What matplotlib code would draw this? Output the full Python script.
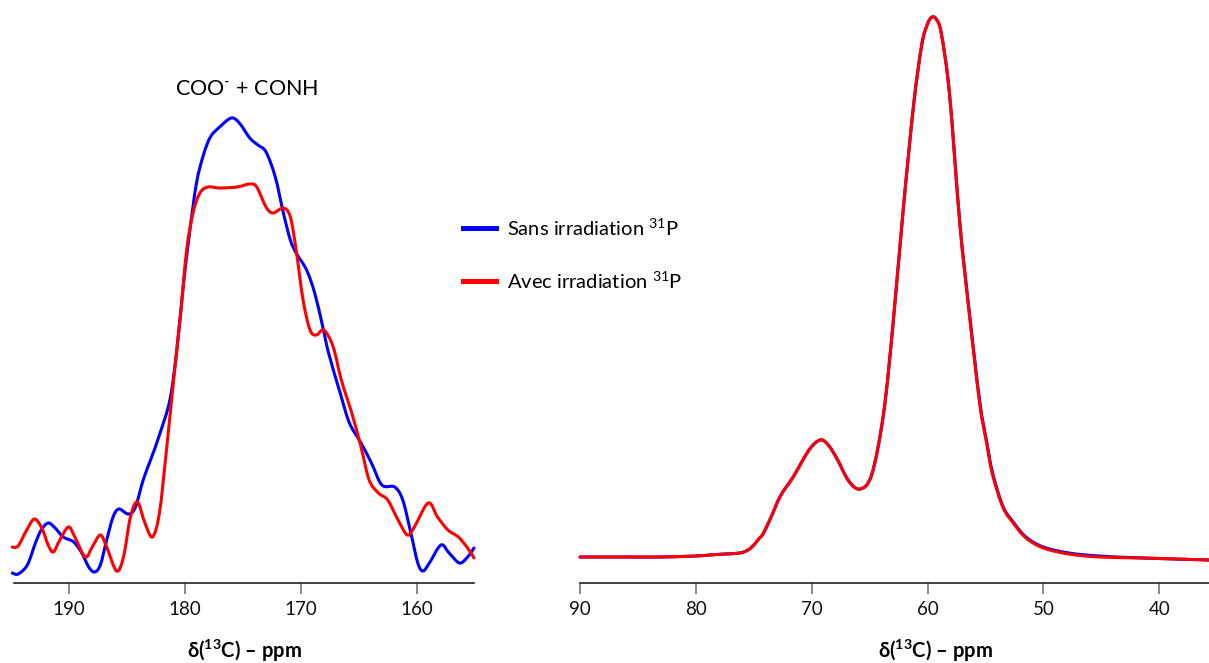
import matplotlib

matplotlib.use("Agg")
import matplotlib.pyplot as plt
import numpy as np
from matplotlib.lines import Line2D
from matplotlib.patches import PathPatch
from matplotlib.path import Path

plt.rcParams["font.family"] = ["Lato", "DejaVu Sans"]
plt.rcParams["mathtext.fontset"] = "custom"
plt.rcParams["mathtext.rm"] = "Lato"
plt.rcParams["mathtext.bf"] = "Lato:bold"

BLUE = "#0000ff"
RED = "#ff0000"

# carbonyl region (COO- + CONH), intensity in arbitrary units
carb_ppm_sans = [194.9, 194.4, 193.6, 192.9, 192.4, 191.8, 191.2, 190.5, 189.6, 188.9,
                 188.3, 187.8, 187.3, 186.75, 186.2, 185.7, 184.9, 184.3, 183.6, 182.9,
                 182.2, 181.3, 180.7, 180.15, 179.6, 179.0, 178.4, 177.8, 177.0, 176.0,
                 175.3, 174.4, 173.7, 173.0, 172.2, 171.5, 170.9, 170.4, 169.5, 168.8,
                 168.1, 167.6, 166.6, 165.8, 164.8, 163.9, 163.0, 161.9, 161.2, 160.5,
                 159.9, 159.45, 158.9, 157.9, 157.2, 156.3, 155.6, 155.05]
carb_int_sans = [10, 9, 18, 40, 53, 60, 55, 46, 41, 30,
                 16, 11, 18, 43, 66, 74, 69, 75, 103, 125,
                 148, 183, 233, 296, 350, 400, 428, 446, 456, 465,
                 460, 445, 438, 431, 406, 370, 343, 330, 313, 290,
                 256, 230, 190, 160, 140, 120, 98, 96, 83, 50,
                 20, 12, 20, 38, 30, 20, 26, 35]

carb_ppm_avec = [194.9, 194.4, 193.65, 193.0, 192.35, 191.8, 191.35, 190.8, 190.05, 189.5,
                 188.6, 188.0, 187.3, 186.75, 185.9, 185.3, 184.7, 184.1, 183.45, 182.8,
                 182.2, 181.6, 181.0, 180.4, 179.85, 179.3, 178.7, 178.0, 177.0, 175.5,
                 174.4, 173.8, 173.0, 172.4, 171.5, 170.9, 170.4, 169.8, 169.2, 168.65,
                 168.0, 167.2, 166.5, 165.6, 164.8, 164.1, 163.3, 162.5, 161.6, 160.8,
                 160.2, 159.0, 158.2, 157.3, 156.4, 155.6, 155.05]
carb_int_avec = [36, 37, 53, 64, 55, 38, 31, 43, 56, 46,
                 26, 36, 48, 36, 12, 26, 66, 81, 60, 46,
                 70, 132, 200, 266, 333, 370, 390, 396, 395, 396,
                 399, 396, 376, 370, 375, 366, 333, 283, 253, 248,
                 253, 236, 203, 170, 136, 103, 90, 83, 63, 48,
                 56, 80, 66, 53, 46, 35, 25]

# aliphatic region
ali_ppm = [90.0, 86.0, 83.0, 80.0, 78.8, 77.5, 76.2, 75.5, 75.0, 74.5,
           74.2, 73.5, 72.7, 71.6, 70.4, 69.7, 69.1, 68.5, 67.8, 66.8,
           65.8, 64.8, 63.8, 63.0, 62.1, 61.2, 60.5, 60.0, 59.6, 59.2,
           58.8, 58.1, 57.2, 56.4, 55.5, 54.9, 54.4, 53.5, 52.6,
           51.5, 50.0, 47.8, 45.2, 41.4, 35.7]
ali_int_sans = [26, 26, 26, 27, 28, 29, 30, 33, 38, 45,
                49, 66, 87, 106, 130, 140, 143, 137, 124, 102,
                94, 109, 169, 256, 373, 478, 538, 559, 566, 563,
                549, 489, 359, 272, 182, 142, 111, 77, 61,
                46, 36, 30, 27, 25, 23]
ali_int_avec = [26, 26, 26, 27, 28, 29, 30, 33, 38, 45,
                49, 66, 87, 106, 130, 140, 143, 137, 124, 102,
                94, 109, 169, 256, 373, 478, 538, 559, 566, 563,
                549, 489, 358, 270, 180, 140, 109, 76, 60,
                45, 35, 29, 26, 25, 23]

xticks_carb = [190, 180, 170, 160]
xticks_ali = [90, 80, 70, 60, 50, 40]
labels = [r"Sans irradiation $^{31}$P", r"Avec irradiation $^{31}$P"]
xlabel = "\u03b4(" + r"$\mathbf{^{13}}$" + "C) \u2013 ppm"

W, H = 1209, 663
fig = plt.figure(figsize=(W / 100, H / 100), dpi=100)
ax_l = fig.add_axes([14 / W, 80 / H, 460 / W, 583 / H])
ax_r = fig.add_axes([580 / W, 80 / H, 629 / W, 583 / H])


def spectrum(ax, x, y, color):
    # smooth trace through the read points (Catmull-Rom drawn as Bezier segments)
    p = np.column_stack([x, y]).astype(float)
    ext = np.vstack([p[0], p, p[-1]])
    verts, codes = [p[0]], [Path.MOVETO]
    for i in range(len(p) - 1):
        p0, p1, p2, p3 = ext[i], ext[i + 1], ext[i + 2], ext[i + 3]
        verts += [p1 + (p2 - p0) / 6, p2 - (p3 - p1) / 6, p2]
        codes += [Path.CURVE4] * 3
    ax.add_patch(PathPatch(Path(verts, codes), fill=False, edgecolor=color, lw=2.2,
                           joinstyle="round", capstyle="round", clip_on=False))


def style(ax, xlim, ticks):
    ax.set_xlim(*xlim)
    ax.set_ylim(0, 583)
    for side in ("left", "right", "top"):
        ax.spines[side].set_visible(False)
    ax.spines["bottom"].set_linewidth(1.2)
    ax.spines["bottom"].set_color("#222222")
    ax.set_yticks([])
    ax.set_xticks(ticks)
    ax.tick_params(axis="x", direction="out", length=8, width=1.3, color="#7f7f7f",
                   pad=5, labelsize=13.5, labelcolor="#111111")


spectrum(ax_l, carb_ppm_sans, carb_int_sans, BLUE)
spectrum(ax_l, carb_ppm_avec, carb_int_avec, RED)
style(ax_l, (194.75, 155.05), xticks_carb)

spectrum(ax_r, ali_ppm, ali_int_sans, BLUE)
spectrum(ax_r, ali_ppm, ali_int_avec, RED)
style(ax_r, (90, 35.7), xticks_ali)

fig.text(247 / W, 1 - 89 / H, r"COO$^{\text{-}}$ + CONH", ha="center", va="center", fontsize=15.5)
fig.text(244 / W, 1 - 658 / H, xlabel, ha="center", va="baseline", fontsize=14.5, fontweight="bold")
fig.text(935 / W, 1 - 658 / H, xlabel, ha="center", va="baseline", fontsize=14.5, fontweight="bold")

# legend drawn by hand to match the original spacing
for y_px, color, text in [(228, BLUE, labels[0]), (281, RED, labels[1])]:
    fig.add_artist(Line2D([463 / W, 496 / W], [1 - y_px / H] * 2, color=color, lw=3.6,
                          transform=fig.transFigure))
    fig.text(507 / W, 1 - y_px / H, text, ha="left", va="center", fontsize=14.5)

fig.savefig("out.png", dpi=100)
